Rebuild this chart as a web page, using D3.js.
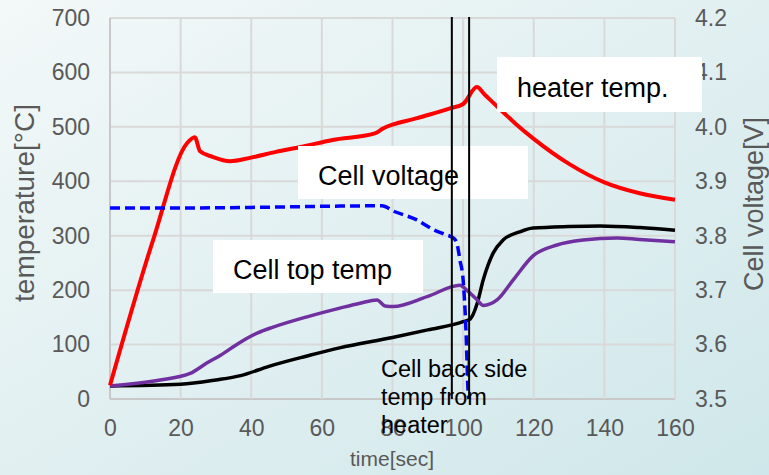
<!DOCTYPE html>
<html>
<head>
<meta charset="utf-8">
<script src="https://cdn.jsdelivr.net/npm/d3@7"></script>
<style>
  body { margin: 0; padding: 0; }
  svg { display: block; font-family: "Liberation Sans", Arial, sans-serif; }
</style>
</head>
<body>
<script>
// ticks
var X_TICKS = [0, 20, 40, 60, 80, 100, 120, 140, 160];
var T_TICKS = [0, 100, 200, 300, 400, 500, 600, 700];
var V_TICKS = [3.5, 3.6, 3.7, 3.8, 3.9, 4.0, 4.1, 4.2];

// heater temp. (left axis, degC)
var HEATER_T = [0, 12.2, 21.8, 24, 25.5, 29, 34, 39.6, 47, 54, 63, 75, 77.3, 87, 96.3, 100, 103.9, 106, 110, 115, 120, 130, 140, 150, 160];
var HEATER_V = [25, 292, 470, 481, 455, 445, 437, 443, 454, 463, 476, 488, 497, 516, 534, 542, 573, 560, 535, 505, 478, 432, 398, 378, 366];

// cell back side temp (left axis)
var BACK_T = [0, 20, 30, 37, 45, 55.8, 65, 80, 90, 100, 102, 104, 105.7, 108.5, 111.3, 116, 119.8, 130, 138.8, 150, 160];
var BACK_V = [24, 27, 35, 43, 60, 79, 94, 113, 127, 142, 147, 176, 219, 268, 292, 307, 314, 317, 318, 315, 310];

// cell top temp (left axis)
var TOP_T = [0, 14.2, 22.7, 27.4, 31.2, 36.8, 42, 46.2, 55.8, 65.1, 70.8, 75.6, 77.9, 80.2, 89.8, 99.1, 101, 104, 105.7, 109.6, 114.2, 119.8, 126.6, 134, 143.6, 150, 160];
var TOP_V = [24, 35, 47, 66, 80, 104, 122, 132, 151, 167, 176, 182, 171, 170, 188, 209, 200, 182, 172, 182, 219, 263, 283, 292, 296, 293, 289];

// cell voltage (right axis, V)
var VOLT_T = [0, 20, 40, 60, 77, 80.3, 86.9, 91.6, 95, 97.2, 98.2, 99.1, 100, 100.8, 101.4, 101.6];
var VOLT_V = [3.851, 3.851, 3.852, 3.854, 3.855, 3.845, 3.829, 3.811, 3.802, 3.796, 3.787, 3.755, 3.719, 3.627, 3.515, 3.5];

// markers (vertical lines)
var MARK_T = [96.8, 101.7];

var W = 769, H = 475;
var svg = d3.select("body").append("svg").attr("width", W).attr("height", H);

var defs = svg.append("defs");
var grad = defs.append("linearGradient").attr("id", "bg")
    .attr("x1", "0%").attr("y1", "0%").attr("x2", "100%").attr("y2", "100%");
grad.append("stop").attr("offset", "0%").attr("stop-color", "#f3f8f8");
grad.append("stop").attr("offset", "100%").attr("stop-color", "#cfe7ea");
svg.append("rect").attr("width", W).attr("height", H).attr("fill", "url(#bg)");

var x = d3.scaleLinear().domain([0, 160]).range([110, 675]);
var yT = d3.scaleLinear().domain([0, 700]).range([399, 18]);
var yV = d3.scaleLinear().domain([3.5, 4.2]).range([399, 18]);

// grid
svg.append("g").selectAll("line").data(T_TICKS).enter().append("line")
    .attr("x1", x(0)).attr("x2", x(160))
    .attr("y1", function (d) { return yT(d); }).attr("y2", function (d) { return yT(d); })
    .attr("stroke", function (d) { return d == 0 ? "#c8c8c8" : "#d9d9d9"; })
    .attr("stroke-width", 2);
svg.append("g").selectAll("line").data(X_TICKS).enter().append("line")
    .attr("y1", yT(0)).attr("y2", yT(700))
    .attr("x1", function (d) { return x(d); }).attr("x2", function (d) { return x(d); })
    .attr("stroke", function (d) { return d == 0 ? "#c8c8c8" : "#d9d9d9"; })
    .attr("stroke-width", 2);

// axes
function styleAxis(g) {
    g.select(".domain").remove();
    g.selectAll("text").attr("fill", "#595959").style("font-size", "23px");
}
svg.append("g").attr("transform", "translate(110,0)")
    .call(d3.axisLeft(yT).tickValues(T_TICKS).tickSize(0).tickPadding(20)).call(styleAxis);
svg.append("g").attr("transform", "translate(675,0)")
    .call(d3.axisRight(yV).tickValues(V_TICKS).tickSize(0).tickPadding(20).tickFormat(d3.format(".1f"))).call(styleAxis);
svg.append("g").attr("transform", "translate(0,399)")
    .call(d3.axisBottom(x).tickValues(X_TICKS).tickSize(0).tickPadding(21)).call(styleAxis);

svg.append("text").attr("transform", "translate(34,203) rotate(-90)")
    .attr("text-anchor", "middle").attr("fill", "#595959").style("font-size", "28px")
    .text("temperature[°C]");
svg.append("text").attr("transform", "translate(763,204) rotate(-90)")
    .attr("text-anchor", "middle").attr("fill", "#595959").style("font-size", "27px")
    .text("Cell voltage[V]");
svg.append("text").attr("x", 392).attr("y", 466)
    .attr("text-anchor", "middle").attr("fill", "#595959").style("font-size", "21px")
    .text("time[sec]");

function zip(ts, vs) { return ts.map(function (t, i) { return [t, vs[i]]; }); }

var lineT = d3.line().x(function (d) { return x(d[0]); }).y(function (d) { return yT(d[1]); })
    .curve(d3.curveMonotoneX);
var lineV = d3.line().x(function (d) { return x(d[0]); }).y(function (d) { return yV(d[1]); })
    .curve(d3.curveMonotoneX);

svg.append("path").datum(zip(BACK_T, BACK_V)).attr("d", lineT)
    .attr("fill", "none").attr("stroke", "#000").attr("stroke-width", 3.5);
svg.append("path").datum(zip(TOP_T, TOP_V)).attr("d", lineT)
    .attr("fill", "none").attr("stroke", "#7030a0").attr("stroke-width", 3.5);
svg.append("path").datum(zip(HEATER_T, HEATER_V)).attr("d", lineT)
    .attr("fill", "none").attr("stroke", "#ff0000").attr("stroke-width", 4);
svg.append("path").datum(zip(VOLT_T, VOLT_V)).attr("d", lineV)
    .attr("fill", "none").attr("stroke", "#0000ff").attr("stroke-width", 3.5)
    .attr("stroke-dasharray", "10,5");

// label boxes
var boxes = [
    { x: 497, y: 57, w: 205, h: 55, tx: 517, ty: 97, s: "heater temp." },
    { x: 298, y: 146, w: 230, h: 53, tx: 318, ty: 185, s: "Cell voltage" },
    { x: 213, y: 240, w: 210, h: 53, tx: 233, ty: 279, s: "Cell top temp" }
];
boxes.forEach(function (b) {
    svg.append("rect").attr("x", b.x).attr("y", b.y).attr("width", b.w).attr("height", b.h).attr("fill", "#fff");
    svg.append("text").attr("x", b.tx).attr("y", b.ty).style("font-size", "27px").attr("fill", "#000").text(b.s);
});

svg.append("g").selectAll("line").data(MARK_T).enter().append("line")
    .attr("x1", function (d) { return x(d); }).attr("x2", function (d) { return x(d); })
    .attr("y1", yT(700) - 1).attr("y2", yT(0))
    .attr("stroke", "#000").attr("stroke-width", 2);

var back = svg.append("text").attr("x", 381).attr("y", 377).style("font-size", "23.5px").attr("fill", "#000");
["Cell back side", "temp from", "heater"].forEach(function (s, i) {
    back.append("tspan").attr("x", 381).attr("dy", i == 0 ? 0 : 28).text(s);
});
</script>
</body>
</html>
